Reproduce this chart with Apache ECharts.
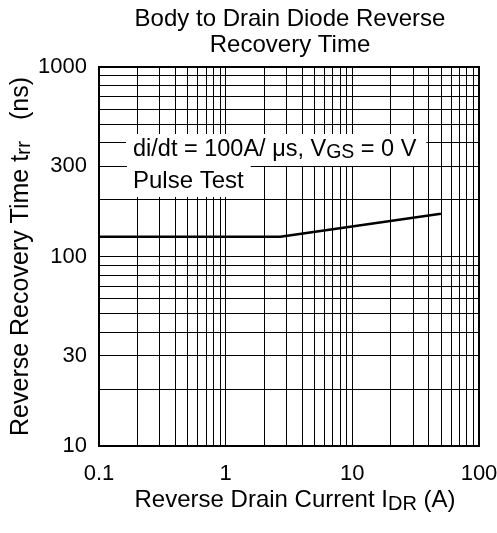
<!DOCTYPE html>
<html><head><meta charset="utf-8">
<script src="https://cdn.jsdelivr.net/npm/echarts@6/dist/echarts.min.js"></script>
<style>html,body{margin:0;padding:0;background:#fff}#c{width:497px;height:533px}</style>
</head><body><div id="c"></div>
<script>
// Data
const currentA = [0.1, 2.7, 50];
const trrNs = [127, 127, 168];
const xTickLabels = [0.1, 1, 10, 100];
const yTickLabels = [10, 30, 100, 300, 1000];
const xGridValues = [0.1,0.2,0.3,0.4,0.5,0.6,0.7,0.8,0.9,1,2,3,4,5,6,7,8,9,10,20,30,40,50,60,70,80,90,100];
const yGridValues = [10,20,30,40,50,60,70,80,90,100,200,300,400,500,600,700,800,900,1000];

const FONT = "'Liberation Sans', Arial, sans-serif";
const chart = echarts.init(document.getElementById('c'));
chart.setOption({
  animation: false,
  backgroundColor: '#fff',
  title: {
    text: 'Body to Drain Diode Reverse\nRecovery Time',
    left: 285, top: 1, textAlign: 'center',
    textStyle: { fontFamily: FONT, fontSize: 24, fontWeight: 'normal', color: '#000', lineHeight: 26 }
  },
  grid: { left: 99, top: 67, right: 18, bottom: 87, outerBoundsMode: 'none', containLabel: false,
    show: true, borderColor: '#000', borderWidth: 2, backgroundColor: 'transparent' },
  xAxis: {
    type: 'log', logBase: 10, min: 0.1, max: 100,
    name: 'Reverse Drain Current I{s|DR} (A)',
    nameLocation: 'middle', nameGap: 41, nameMoveOverlap: false,
    nameTextStyle: { fontFamily: FONT, fontSize: 24, color: '#000', padding: [0, 0, 0, 12],
      rich: { s: { fontFamily: FONT, fontSize: 20, color: '#000', padding: [7, 0, 0, 0] } } },
    axisLine: { show: true, lineStyle: { color: '#000', width: 2 } },
    axisTick: { show: false, customValues: xGridValues },
    axisLabel: { customValues: xTickLabels, margin: 17, fontFamily: FONT, fontSize: 22, color: '#000',
      formatter: v => String(v) },
    splitLine: { show: true, lineStyle: { color: '#000', width: 1 } }
  },
  yAxis: {
    type: 'log', logBase: 10, min: 10, max: 1000,
    name: 'Reverse Recovery Time t{s|rr}   (ns)',
    nameLocation: 'middle', nameGap: 64, nameRotate: 90, nameMoveOverlap: false,
    nameTextStyle: { fontFamily: FONT, fontSize: 25, color: '#000',
      rich: { s: { fontFamily: FONT, fontSize: 21, color: '#000', padding: [7, 0, 0, 0] } } },
    axisLine: { show: true, lineStyle: { color: '#000', width: 2 } },
    axisTick: { show: false, customValues: yGridValues },
    axisLabel: { customValues: yTickLabels, margin: 12, fontFamily: FONT, fontSize: 22, color: '#000',
      formatter: v => String(v) },
    splitLine: { show: true, lineStyle: { color: '#000', width: 1 } }
  },
  graphic: [
    { type: 'text', left: 126, top: 134, z: 10,
      style: { text: 'di/dt = 100A/ μs, V{s|GS} = 0 V', fontFamily: FONT, fontSize: 23.5, fill: '#000',
        backgroundColor: '#fff', padding: [2, 10, 3, 7],
        rich: { s: { fontFamily: FONT, fontSize: 19.5, fill: '#000', padding: [7, 0, 0, 0] } } } },
    { type: 'text', left: 127, top: 166, z: 10,
      style: { text: 'Pulse Test', fontFamily: FONT, fontSize: 24, fill: '#000',
        backgroundColor: '#fff', padding: [3, 7, 4, 6] } }
  ],
  series: [{
    type: 'line',
    data: currentA.map((x, i) => [x, trrNs[i]]),
    symbol: 'none',
    lineStyle: { color: '#000', width: 2.5 },
    z: 5
  }]
});
</script></body></html>
